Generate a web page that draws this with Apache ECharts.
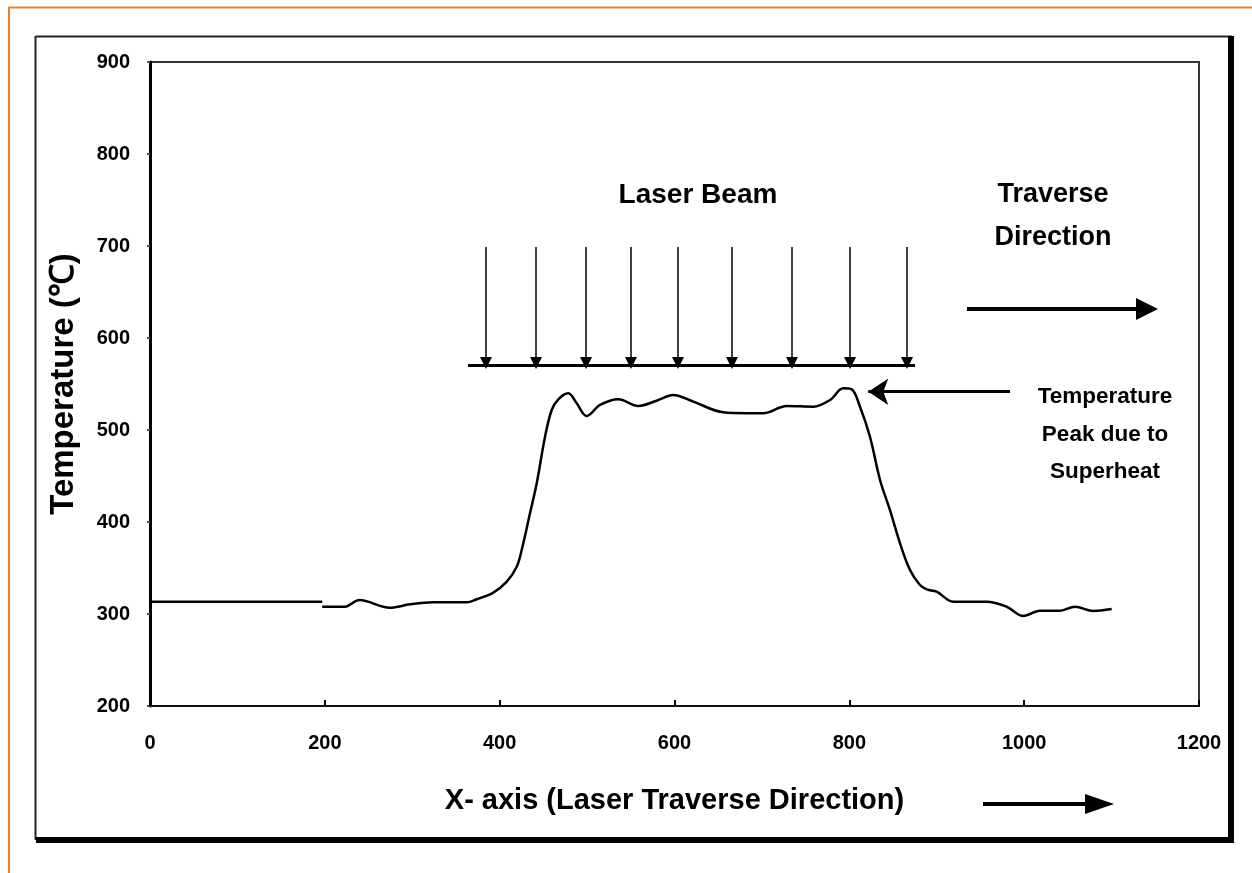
<!DOCTYPE html>
<html>
<head>
<meta charset="utf-8">
<script src="https://cdn.jsdelivr.net/npm/echarts@6/dist/echarts.min.js"></script>
<style>
html,body{margin:0;padding:0;background:#fff;}
#chart{width:1252px;height:873px;}
</style>
</head>
<body>
<div id="chart"></div>
<script>
// ---- data ----
const xTicks = [0, 200, 400, 600, 800, 1000, 1200];
const yTicks = [200, 300, 400, 500, 600, 700, 800, 900];
const flatX = [0, 197];
const flatT = [313.4, 313.4];
const curveX = [197, 223.1, 239.4, 274.5, 297.4, 323.7, 362.3, 373.7, 392.7, 408.1, 419.5, 425.2, 434.7, 442.4, 451.9, 459.5, 467.1, 478.5, 488.1, 499.6, 514.8, 535.7, 558.6, 579.6, 598.6, 621.5, 655.8, 682.6, 701.6, 728.4, 758.8, 777.9, 793.1, 802.7, 812.2, 823.6, 835.1, 846.5, 858, 869.4, 880.8, 888.5, 899.9, 918.9, 957.1, 980, 999, 1018.1, 1041, 1058.2, 1079.1, 1100.1];
const curveT = [307.9, 307.9, 315.2, 306.8, 310.5, 312.7, 312.7, 316, 323.2, 335.1, 351.4, 369.6, 409.5, 442.1, 492.7, 521.7, 533.4, 539.9, 529, 515.2, 527.2, 533.4, 526.1, 531.8, 538, 530.8, 519.2, 518.2, 518.2, 526.1, 525.3, 532.6, 545.3, 544.2, 525.3, 492.7, 445.7, 413, 376.8, 347.8, 331.5, 326.8, 324.2, 313.4, 313.4, 307.9, 297.8, 303.6, 303.6, 307.9, 303.3, 305.4];
// laser beam arrows (data coordinates)
const beamX = [384.4, 441.6, 498.8, 550.2, 604, 665.8, 734.4, 800.8, 866];
const beamTop = 698.9;
const beamTip = 572.8;
const beamBarX = [363.8, 875.1];
const beamBarT = 570.7;
const traverseArrowX = [934.6, 1140.5];
const traverseArrowT = 631.5;
const peakArrowX = [983.8, 821.7];
const peakArrowT = 541.6;

const FONT = '"Liberation Sans", Arial, sans-serif';

const chart = echarts.init(document.getElementById('chart'), null, {renderer: 'canvas'});

const beamLines = beamX.map(x => ({coords: [[x, beamTop], [x, beamTip]]}));

chart.setOption({
  animation: false,
  backgroundColor: '#ffffff',
  grid: {
    left: 150, top: 62, right: 53, bottom: 167,
    show: true, borderColor: '#333', borderWidth: 2
  },
  xAxis: {
    type: 'value', min: 0, max: 1200, interval: 200,
    name: 'X- axis (Laser Traverse Direction)',
    nameLocation: 'middle', nameGap: 80,
    nameTextStyle: {fontFamily: FONT, fontSize: 29, fontWeight: 'bold', color: '#000'},
    axisLine: {show: true, lineStyle: {color: '#111', width: 2}},
    axisTick: {show: true, inside: true, length: 6, lineStyle: {color: '#000', width: 2}},
    axisLabel: {margin: 27, fontFamily: FONT, fontSize: 20, fontWeight: 'bold', color: '#000',
      formatter: v => xTicks.includes(v) ? String(v) : ''},
    splitLine: {show: false}
  },
  yAxis: {
    type: 'value', min: 200, max: 900, interval: 100,
    name: 'Temperature (℃)',
    nameLocation: 'middle', nameGap: 70, nameRotate: 90,
    nameTextStyle: {fontFamily: FONT, fontSize: 33, fontWeight: 'bold', color: '#000'},
    axisLine: {show: true, lineStyle: {color: '#000', width: 3}},
    axisTick: {show: true, inside: false, length: 3, lineStyle: {color: '#555', width: 2}},
    axisLabel: {margin: 20, fontFamily: FONT, fontSize: 20, fontWeight: 'bold', color: '#000',
      formatter: v => yTicks.includes(v) ? String(v) : ''},
    splitLine: {show: false}
  },
  series: [
    {
      type: 'line', name: 'flat', showSymbol: false, symbol: 'none',
      data: flatX.map((x, i) => [x, flatT[i]]),
      lineStyle: {color: '#000', width: 2.5}
    },
    {
      type: 'line', name: 'temperature', showSymbol: false, symbol: 'none', smooth: 0.35,
      data: curveX.map((x, i) => [x, curveT[i]]),
      lineStyle: {color: '#000', width: 2.5}
    },
    {
      type: 'lines', coordinateSystem: 'cartesian2d',
      symbol: ['none', 'triangle'], symbolSize: [11, 12],
      lineStyle: {color: '#000', width: 1.5, opacity: 1},
      data: beamLines
    },
    {
      type: 'lines', coordinateSystem: 'cartesian2d',
      symbol: 'none',
      lineStyle: {color: '#000', width: 3, opacity: 1},
      data: [{coords: [[beamBarX[0], beamBarT], [beamBarX[1], beamBarT]]}]
    },
    {
      type: 'lines', coordinateSystem: 'cartesian2d',
      symbol: ['none', 'triangle'], symbolSize: [20, 22],
      lineStyle: {color: '#000', width: 4, opacity: 1},
      data: [{coords: [[traverseArrowX[0], traverseArrowT], [traverseArrowX[1], traverseArrowT]]}]
    },
    {
      type: 'lines', coordinateSystem: 'cartesian2d',
      symbol: ['none', 'arrow'], symbolSize: [16, 20],
      lineStyle: {color: '#000', width: 3, opacity: 1},
      data: [{coords: [[peakArrowX[0], peakArrowT], [peakArrowX[1], peakArrowT]]}]
    }
  ],
  graphic: [
    // orange outer border
    {type: 'rect', silent: true, shape: {x: 9, y: 7.5, width: 1400, height: 1000},
      style: {fill: 'none', stroke: '#ED7D31', lineWidth: 2}},
    // inner black frame
    {type: 'line', silent: true, shape: {x1: 36, y1: 36.5, x2: 1232, y2: 36.5}, style: {stroke: '#222', lineWidth: 2}},
    {type: 'line', silent: true, shape: {x1: 35.5, y1: 36, x2: 35.5, y2: 840}, style: {stroke: '#222', lineWidth: 2}},
    {type: 'line', silent: true, shape: {x1: 1231, y1: 36, x2: 1231, y2: 843}, style: {stroke: '#000', lineWidth: 6}},
    {type: 'line', silent: true, shape: {x1: 36, y1: 840, x2: 1234, y2: 840}, style: {stroke: '#000', lineWidth: 6}},
    // bottom direction arrow
    {type: 'line', silent: true, shape: {x1: 983, y1: 804, x2: 1090, y2: 804}, style: {stroke: '#000', lineWidth: 4}},
    {type: 'polygon', silent: true, shape: {points: [[1085, 794], [1114, 804], [1085, 814]]}, style: {fill: '#000'}},
    // annotation texts
    {type: 'text', silent: true, x: 698, y: 195,
      style: {text: 'Laser Beam', fontFamily: FONT, fontSize: 28, fontWeight: 'bold', fill: '#000', align: 'center', verticalAlign: 'middle'}},
    {type: 'text', silent: true, x: 1053, y: 216.5,
      style: {text: 'Traverse\nDirection', fontFamily: FONT, fontSize: 27, fontWeight: 'bold', lineHeight: 43, fill: '#000', align: 'center', verticalAlign: 'middle'}},
    {type: 'text', silent: true, x: 1105, y: 434.5,
      style: {text: 'Temperature\nPeak due to\nSuperheat', fontFamily: FONT, fontSize: 22.5, fontWeight: 'bold', lineHeight: 37.5, fill: '#000', align: 'center', verticalAlign: 'middle'}}
  ]
});
</script>
</body>
</html>
